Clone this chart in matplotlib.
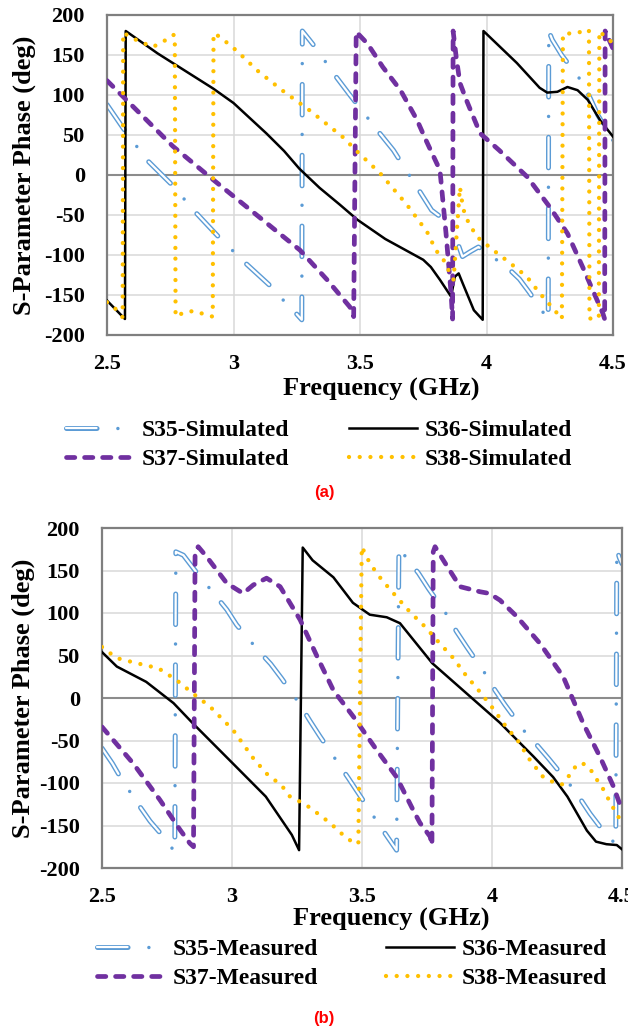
import matplotlib
matplotlib.use("Agg")
import matplotlib.pyplot as plt
from matplotlib.legend_handler import HandlerTuple

plt.rcParams['font.family'] = ['Liberation Serif', 'DejaVu Serif']
plt.rcParams['font.weight'] = 'bold'
plt.rcParams['lines.scale_dashes'] = False
plt.rcParams['axes.unicode_minus'] = False

# ---- panel (a): simulated phases ----
s35SimFreq = [2.5, 2.565, 2.657, 2.756, 2.848, 2.94, 3.04, 3.14, 3.186, 3.236,
              3.27, 3.272, 3.30, 3.342, 3.381, 3.46, 3.507, 3.553, 3.632, 3.67,
              3.711, 3.783, 3.83, 3.855, 3.875, 3.885, 3.905, 3.935, 3.968, 4.08,
              4.13, 4.17, 4.244, 4.246, 4.26, 4.297, 4.376, 4.41, 4.44, 4.5]
s35SimPhase = [88, 58, 19, -12, -46, -77, -108, -137, -153, -169,
               -181, 180, 169, 152, 133, 100, 81, 62, 31, 12,
               -8, -44, -55, -57, -70, -84, -102, -96, -90, -115,
               -130, -147, -181, 180, 169, 150, 117, 96, 75, 43]

s36SimFreq = [2.5, 2.571, 2.574, 2.7, 2.77, 2.92, 3.0, 3.13, 3.2, 3.26,
              3.34, 3.42, 3.49, 3.6, 3.75, 3.78, 3.816, 3.86, 3.875, 3.89,
              3.908, 3.95, 3.985, 3.988, 4.12, 4.21, 4.24, 4.28, 4.32, 4.36,
              4.40, 4.45, 4.5]
s36SimPhase = [-157, -180, 180, 152, 138, 108, 90, 52, 30, 8,
               -16, -37, -56, -80, -106, -115, -131, -152, -127, -123,
               -137, -169, -181, 180, 140, 109, 103, 104, 110, 106,
               94, 68, 48]

s37SimFreq = [2.5, 2.76, 2.92, 3.263, 3.37, 3.46, 3.475, 3.485, 3.53, 3.59,
              3.66, 3.725, 3.76, 3.816, 3.84, 3.86, 3.866, 3.868, 3.88, 3.895,
              3.92, 3.975, 4.05, 4.16, 4.25, 4.32, 4.38, 4.42, 4.46, 4.467,
              4.469, 4.5]
s37SimPhase = [118, 36, -6, -94, -131, -165, -177, 179, 164, 135,
               106, 69, 44, 6, -73, -148, -180, 180, 148, 115,
               94, 52, 31, -2, -40, -73, -115, -144, -173, -180,
               180, 158]

s38SimFreq = [2.5, 2.53, 2.562, 2.564, 2.60, 2.68, 2.72, 2.757, 2.768, 2.771,
              2.81, 2.85, 2.89, 2.918, 2.921, 2.945, 3.01, 3.10, 3.20, 3.30,
              3.43, 3.49, 3.58, 3.685, 3.765, 3.80, 3.83, 3.85, 3.87, 3.885,
              3.895, 3.907, 3.92, 3.961, 4.027, 4.093, 4.159, 4.211, 4.264, 4.29,
              4.298, 4.302, 4.33, 4.36, 4.40, 4.405, 4.407, 4.425, 4.444, 4.446,
              4.475, 4.5]
s38SimPhase = [-159, -166, -178, 178, 171, 160, 166, 175, 175, -177,
               -171, -170, -175, -177, 177, 173, 156, 129, 104, 81,
               48, 29, 2, -37, -71, -94, -106, -119, -131, -60,
               -15, -41, -54, -77, -94, -110, -127, -148, -167, -177,
               -180, 176, 177, 179, 177, 180, -180, -177, -178, 180,
               171, 165]

# ---- panel (b): measured phases ----
s35MeasFreq = [2.5, 2.54, 2.576, 2.646, 2.685, 2.73, 2.78, 2.784, 2.813, 2.858,
               2.935, 2.98, 3.018, 3.101, 3.149, 3.191, 3.262, 3.30, 3.338, 3.409,
               3.447, 3.486, 3.557, 3.597, 3.633, 3.642, 3.672, 3.717, 3.755, 3.826,
               3.864, 3.903, 3.973, 4.012, 4.05, 4.127, 4.172, 4.217, 4.30, 4.338,
               4.377, 4.454, 4.476, 4.48, 4.49, 4.5]
s35MeasPhase = [-59, -77, -96, -128, -145, -161, -181, 172, 168, 150,
                121, 104, 86, 56, 40, 23, -8, -27, -45, -77,
                -94, -112, -145, -163, -179, 178, 164, 147, 129, 98,
                78, 60, 29, 9, -8, -40, -55, -71, -102, -118,
                -136, -167, -170, 175, 165, 158]

s36MeasFreq = [2.5, 2.557, 2.67, 2.775, 2.85, 3.0, 3.13, 3.23, 3.258, 3.272,
               3.31, 3.39, 3.465, 3.53, 3.595, 3.646, 3.77, 3.90, 4.03, 4.16,
               4.235, 4.29, 4.365, 4.40, 4.44, 4.48, 4.5]
s36MeasPhase = [54, 37, 19, -6, -30, -76, -116, -161, -179, 177,
                162, 142, 112, 98, 95, 88, 41, 6, -29, -69,
                -93, -116, -156, -169, -172, -173, -178]

s37MeasFreq = [2.5, 2.62, 2.723, 2.80, 2.838, 2.852, 2.858, 2.87, 2.903, 2.98,
               3.043, 3.082, 3.133, 3.185, 3.262, 3.33, 3.39, 3.467, 3.556, 3.633,
               3.697, 3.723, 3.762, 3.769, 3.774, 3.781, 3.813, 3.877, 3.954, 3.99,
               4.031, 4.095, 4.185, 4.274, 4.351, 4.415, 4.467, 4.5]
s37MeasPhase = [-34, -77, -120, -155, -171, -175, 172, 178, 166, 135,
                123, 133, 141, 131, 92, 47, 9, -22, -61, -93,
                -132, -147, -163, -173, 172, 178, 162, 131, 125, 123,
                115, 96, 64, 25, -30, -69, -104, -132]

s38MeasFreq = [2.5, 2.556, 2.633, 2.717, 2.787, 2.851, 2.915, 3.005, 3.082, 3.133,
               3.191, 3.223, 3.281, 3.313, 3.377, 3.441, 3.48, 3.486, 3.499, 3.531,
               3.576, 3.633, 3.685, 3.742, 3.797, 3.851, 3.899, 3.954, 4.003, 4.05,
               4.101, 4.146, 4.197, 4.229, 4.268, 4.293, 4.313, 4.345, 4.377, 4.396,
               4.422, 4.46, 4.5]
s38MeasPhase = [60, 47, 41, 35, 21, 5, -10, -38, -71, -89,
                -103, -116, -125, -132, -147, -165, -172, -171, 178, 158,
                139, 119, 101, 84, 65, 47, 27, 7, -12, -32,
                -51, -73, -93, -98, -102, -93, -83, -76, -83, -93,
                -104, -126, -147]

simLabels = ['S35-Simulated', 'S36-Simulated', 'S37-Simulated', 'S38-Simulated']
measLabels = ['S35-Measured', 'S36-Measured', 'S37-Measured', 'S38-Measured']
xTicks = [2.5, 3, 3.5, 4, 4.5]
xTickLabels = ['2.5', '3', '3.5', '4', '4.5']
yTicks = [-200, -150, -100, -50, 0, 50, 100, 150, 200]

BLUE = '#5B9BD5'
PURPLE = '#7030A0'
GOLD = '#FFC000'
W, H = 628, 1032


def drawS35(ax, x, y):
    # hollow long dash + dot, like Excel's double line
    outer, = ax.plot(x, y, color=BLUE, lw=3.6, linestyle=(0, (22, 29)),
                     dash_capstyle='round', dash_joinstyle='round', zorder=2)
    inner, = ax.plot(x, y, color='white', lw=1.6, linestyle=(0, (22, 29)),
                     dash_capstyle='round', dash_joinstyle='round', zorder=2.1)
    dots, = ax.plot(x, y, color=BLUE, lw=2.5, linestyle=(14, (0.01, 50.99)),
                    dash_capstyle='round', zorder=2.2)
    return (outer, inner, dots)


def drawPanel(ax, data, labels):
    h35 = drawS35(ax, data[0][0], data[0][1])
    h36, = ax.plot(data[1][0], data[1][1], color='black', lw=1.8, zorder=3)
    h37, = ax.plot(data[2][0], data[2][1], color=PURPLE, lw=3.4,
                   linestyle=(0, (6, 7)), dash_capstyle='round', zorder=4)
    h38, = ax.plot(data[3][0], data[3][1], color=GOLD, lw=3.1,
                   linestyle=(0, (0.01, 7.7)), dash_capstyle='round', zorder=5)

    ax.set_xlim(2.5, 4.5)
    ax.set_ylim(-200, 200)
    ax.set_xticks(xTicks)
    ax.set_xticklabels(xTickLabels)
    ax.set_yticks(yTicks)
    ax.grid(True, color='#D9D9D9', lw=1.1)
    ax.set_axisbelow(True)
    ax.axhline(0, color='#8C8C8C', lw=1.5, zorder=1.5)
    for s in ax.spines.values():
        s.set_color('#7F7F7F')
        s.set_linewidth(1.6)
    ax.tick_params(axis='both', length=0, labelsize=16)
    ax.tick_params(axis='y', pad=16)
    ax.tick_params(axis='x', pad=14)
    # legend reads row by row: S35, S36 / S37, S38
    order = [0, 2, 1, 3]
    handles = [h35, h36, h37, h38]
    return [handles[i] for i in order], [labels[i] for i in order]


def addLegend(fig, handles, labels, cx, cy, colspace):
    fig.legend(handles, labels, ncol=2, loc='center',
               bbox_to_anchor=(cx / W, 1 - cy / H), bbox_transform=fig.transFigure,
               frameon=False, fontsize=17, handlelength=2.88, handletextpad=0.35,
               columnspacing=colspace, labelspacing=0.3,
               handler_map={tuple: HandlerTuple(ndivide=1)})


def createPlot():
    fig = plt.figure(figsize=(W / 100, H / 100), dpi=100)

    axA = fig.add_axes([107 / W, 1 - 335 / H, 506 / W, 320 / H])
    simData = [(s35SimFreq, s35SimPhase), (s36SimFreq, s36SimPhase),
               (s37SimFreq, s37SimPhase), (s38SimFreq, s38SimPhase)]
    hA, lA = drawPanel(axA, simData, simLabels)

    axB = fig.add_axes([102 / W, 1 - 868 / H, 520 / W, 340 / H])
    measData = [(s35MeasFreq, s35MeasPhase), (s36MeasFreq, s36MeasPhase),
                (s37MeasFreq, s37MeasPhase), (s38MeasFreq, s38MeasPhase)]
    hB, lB = drawPanel(axB, measData, measLabels)

    # axis titles
    fig.text(381 / W, 1 - 389 / H, 'Frequency (GHz)', fontsize=19,
             ha='center', va='center')
    fig.text(391 / W, 1 - 919 / H, 'Frequency (GHz)', fontsize=19,
             ha='center', va='center')
    fig.text(24 / W, 1 - 175 / H, 'S-Parameter Phase (deg)', fontsize=19,
             rotation=90, ha='center', va='center')
    fig.text(23 / W, 1 - 698 / H, 'S-Parameter Phase (deg)', fontsize=19,
             rotation=90, ha='center', va='center')

    addLegend(fig, hA, lA, 319, 445, 2.5)
    addLegend(fig, hB, lB, 352, 964, 2.84)

    fig.text(324 / W, 1 - 493 / H, '(a)', color='red', fontsize=12,
             fontweight='bold', family='Liberation Sans', ha='center', va='center')
    fig.text(324 / W, 1 - 1018 / H, '(b)', color='red', fontsize=12,
             fontweight='bold', family='Liberation Sans', ha='center', va='center')

    fig.savefig('out.png', dpi=100)


def main():
    createPlot()


if __name__ == "__main__":
    main()
